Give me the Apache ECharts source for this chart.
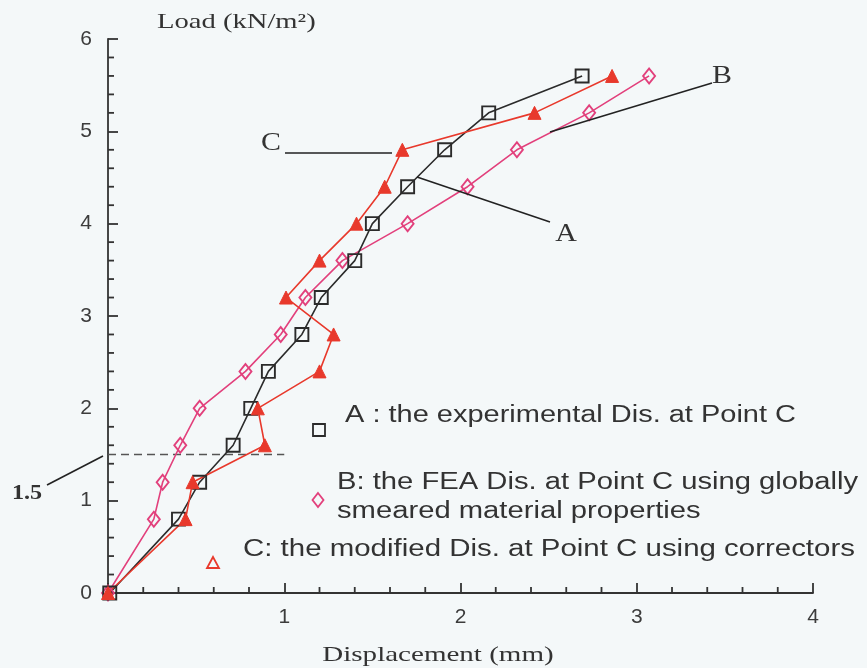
<!DOCTYPE html>
<html><head><meta charset="utf-8">
<script src="https://cdn.jsdelivr.net/npm/echarts@6/dist/echarts.min.js"></script>
<style>html,body{margin:0;padding:0;background:#f4f8f9}#c{width:867px;height:668px}</style>
</head><body><div id="c"></div>
<script>
// ---- data ----
const loadLevels = [0, 0.8, 1.2, 1.6, 2.0, 2.4, 2.8, 3.2, 3.6, 4.0, 4.4, 4.8, 5.2, 5.6];
const dispA = [0.01, 0.40, 0.52, 0.71, 0.81, 0.91, 1.10, 1.21, 1.40, 1.50, 1.70, 1.91, 2.16, 2.69];
const dispB = [0.00, 0.26, 0.31, 0.41, 0.52, 0.78, 0.98, 1.12, 1.33, 1.70, 2.04, 2.32, 2.73, 3.07];
const dispC = [0.00, 0.44, 0.48, 0.89, 0.85, 1.20, 1.28, 1.01, 1.20, 1.41, 1.57, 1.67, 2.42, 2.86];
const refX = [0, 1];
const refY = [1.5, 1.5];
const xTicks = [0, 1, 2, 3, 4];
const yTicks = [0, 1, 2, 3, 4, 5, 6];
const xMinorTicks = [0.2, 0.4, 0.6, 0.8, 1.2, 1.4, 1.6, 1.8, 2.2, 2.4, 2.6, 2.8, 3.2, 3.4, 3.6, 3.8];
const yMinorTicks = [0.2, 0.4, 0.6, 0.8, 1.2, 1.4, 1.6, 1.8, 2.2, 2.4, 2.6, 2.8, 3.2, 3.4, 3.6, 3.8,
                     4.2, 4.4, 4.6, 4.8, 5.2, 5.4, 5.6, 5.8];
const legendA = 'A : the experimental Dis. at Point C';
const legendB1 = 'B: the FEA Dis. at Point C using globally';
const legendB2 = 'smeared material properties';
const legendC = 'C: the modified Dis. at Point C using correctors';

const colA = '#2b2b2b', colB = '#e2407c', colC = '#e8392c';
const zip = (xs, ys) => xs.map((x, i) => [x, ys[i]]);
const xMin = xTicks[0], xMax = xTicks[xTicks.length - 1];
const yMin = yTicks[0], yMax = yTicks[yTicks.length - 1];

const chart = echarts.init(document.getElementById('c'));
const axisCommon = {
  type: 'value', splitLine: {show: false},
  axisLine: {show: true, onZero: false, lineStyle: {color: '#333', width: 1.8}},
  axisTick: {show: true, inside: true, length: 10, lineStyle: {color: '#333', width: 1.8}},
  axisLabel: {fontFamily: 'Liberation Sans', fontSize: 21, color: '#3c3c3c'}
};
function txt(x, y, s, o) {
  o = o || {};
  return {type: 'text', x: x, y: y, scaleX: o.sx || 1, z: 100,
    style: {x: 0, y: 0, text: s, font: o.font, fill: o.fill || '#333',
      textAlign: o.align || 'left', textVerticalAlign: 'middle'}};
}
function seg(x1, y1, x2, y2, c, w) {
  return {type: 'line', z: 100, shape: {x1, y1, x2, y2}, style: {stroke: c || '#222', lineWidth: w || 1.6}};
}
chart.setOption({
  animation: false,
  backgroundColor: '#f4f8f9',
  grid: {left: 108, right: 54, top: 39, bottom: 75},
  xAxis: Object.assign({}, axisCommon, {min: xMin, max: xMax, interval: 1,
    axisLabel: Object.assign({}, axisCommon.axisLabel, {margin: 14, formatter: v => v === 0 ? '' : String(v)})}),
  yAxis: Object.assign({}, axisCommon, {min: yMin, max: yMax, interval: 1,
    axisLabel: Object.assign({}, axisCommon.axisLabel, {margin: 16})}),
  series: [
    {type: 'line', data: zip(refX, refY), symbol: 'none', silent: true,
      lineStyle: {color: '#555', width: 1.6, type: [8, 5]}},
    {type: 'line', name: 'B', data: zip(dispB, loadLevels), symbol: 'diamond', symbolSize: [12, 15],
      lineStyle: {color: colB, width: 1.6},
      itemStyle: {color: 'rgba(255,255,255,0)', borderColor: colB, borderWidth: 1.9}},
    {type: 'line', name: 'A', data: zip(dispA, loadLevels), symbol: 'rect', symbolSize: 13,
      lineStyle: {color: colA, width: 1.6},
      itemStyle: {color: 'rgba(255,255,255,0)', borderColor: colA, borderWidth: 1.9}},
    {type: 'line', name: 'C', data: zip(dispC, loadLevels), symbol: 'triangle', symbolSize: 13,
      lineStyle: {color: colC, width: 1.6},
      itemStyle: {color: colC, borderColor: colC, borderWidth: 1}}
  ]
});

// minor ticks placed through the chart's own scales
const tickLen = 6;
const minorEls = [];
xMinorTicks.forEach(v => {
  const p = chart.convertToPixel({gridIndex: 0}, [v, yMin]);
  minorEls.push(seg(p[0], p[1], p[0], p[1] - tickLen, '#333', 1.8));
});
yMinorTicks.forEach(v => {
  const p = chart.convertToPixel({gridIndex: 0}, [xMin, v]);
  minorEls.push(seg(p[0], p[1], p[0] + tickLen, p[1], '#333', 1.8));
});

chart.setOption({
  graphic: minorEls.concat([
    txt(157, 22, 'Load (kN/m²)', {font: '22px "Liberation Serif"', sx: 1.3}),
    txt(438, 655, 'Displacement (mm)', {font: '22px "Liberation Serif"', sx: 1.32, align: 'center'}),
    // legend
    {type: 'rect', z: 100, shape: {x: 313, y: 424, width: 12, height: 12}, style: {fill: 'none', stroke: colA, lineWidth: 1.8}},
    txt(345, 416, legendA, {font: '23px "Liberation Sans"', sx: 1.26}),
    {type: 'polygon', z: 100, shape: {points: [[318, 493], [323.5, 500], [318, 507], [312.5, 500]]}, style: {fill: 'none', stroke: colB, lineWidth: 1.8}},
    txt(337, 483, legendB1, {font: '23px "Liberation Sans"', sx: 1.27}),
    txt(337, 512, legendB2, {font: '23px "Liberation Sans"', sx: 1.27}),
    txt(243, 550, legendC, {font: '23px "Liberation Sans"', sx: 1.28}),
    {type: 'polygon', z: 100, shape: {points: [[213, 557], [219, 568], [207, 568]]}, style: {fill: 'none', stroke: colC, lineWidth: 1.8}},
    // annotations
    txt(271, 143, 'C', {font: '26px "Liberation Serif"', sx: 1.15, align: 'center'}),
    seg(285, 153, 392, 153),
    txt(566, 234, 'A', {font: '26px "Liberation Serif"', sx: 1.15, align: 'center'}),
    seg(417, 177, 550, 222),
    txt(722, 76, 'B', {font: '26px "Liberation Serif"', sx: 1.15, align: 'center'}),
    seg(550, 132, 712, 83),
    txt(27, 493, '1.5', {font: 'bold 22px "Liberation Serif"', sx: 1.1, align: 'center'}),
    seg(47, 485, 103, 456)
  ])
});
</script></body></html>
